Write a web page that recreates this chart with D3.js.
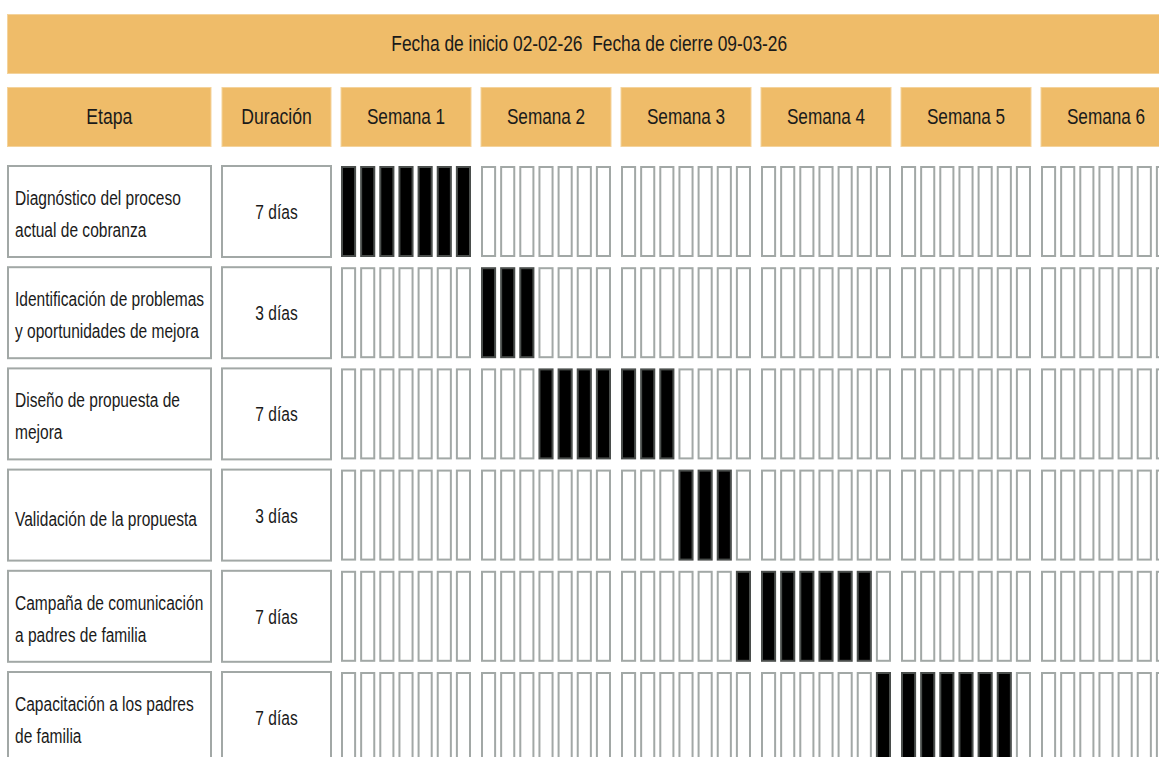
<!DOCTYPE html>
<html><head><meta charset="utf-8">
<script src="https://cdn.jsdelivr.net/npm/d3@7"></script>
<style>html,body{margin:0;padding:0;background:#fff;overflow:hidden} text{white-space:pre}</style>
</head><body>
<svg id="chart" width="1159" height="757"></svg>
<script>
// ---- data ----
const title = "Fecha de inicio 02-02-26  Fecha de cierre 09-03-26";
const headerLabels = ["Etapa", "Duración"];
const weeks = ["Semana 1","Semana 2","Semana 3","Semana 4","Semana 5","Semana 6"];
const dayIndex = [0,1,2,3,4,5,6];
const stages = [
  ["Diagnóstico del proceso","actual de cobranza"],
  ["Identificación de problemas","y oportunidades de mejora"],
  ["Diseño de propuesta de","mejora"],
  ["Validación de la propuesta"],
  ["Campaña de comunicación","a padres de familia"],
  ["Capacitación a los padres","de familia"]
];
const durationLabels = ["7 días","3 días","7 días","3 días","7 días","7 días"];
const durations = [7,3,7,3,7,7];
const startDay = [0,7,10,17,20,27]; // 0-based day index of start

// ---- layout ----
const svg = d3.select("#chart");
const ORANGE = "#EFBC69", GRID = "#a2a8a6";
const FONT = "'Liberation Sans', Arial, sans-serif";

const xWeek = d3.scaleBand().domain(weeks).range([341, 1171]).paddingInner(10/140).paddingOuter(0);
const xDay = d3.scaleBand().domain(dayIndex).range([0, xWeek.bandwidth()]).paddingInner(4/19).paddingOuter(0);
const yRow = d3.scaleBand().domain(d3.range(stages.length)).range([166, 166 + 101.2*5 + 91]).paddingInner(10.2/101.2).paddingOuter(0);
const colX = d3.scaleOrdinal().domain(headerLabels).range([[7.5,211],[222,331]]);

function label(g, txt, x, y, size, anchor, sx){
  g.append("text").attr("transform", `translate(${x},${y}) scale(${sx},1)`)
    .attr("xml:space", "preserve")
    .attr("text-anchor", anchor).attr("font-family", FONT).attr("font-size", size)
    .attr("fill", "#1a1a1a").text(txt);
}

// title bar
svg.append("rect").attr("x", 7.5).attr("y", 14.5).attr("width", 1171-7.5).attr("height", 59)
  .attr("fill", ORANGE).attr("stroke", "#f4d39c").attr("stroke-width", 1);
label(svg, title, (7.5+1171)/2, 51, 22, "middle", 0.79);

// header row
const hdr = svg.append("g");
headerLabels.forEach(h => {
  const [a,b] = colX(h);
  hdr.append("rect").attr("x", a).attr("y", 87.5).attr("width", b-a).attr("height", 59)
    .attr("fill", ORANGE).attr("stroke", "#f4d39c").attr("stroke-width", 1);
  label(hdr, h, (a+b)/2, 124, 22, "middle", 0.8);
});
weeks.forEach(w => {
  hdr.append("rect").attr("x", xWeek(w)).attr("y", 87.5).attr("width", xWeek.bandwidth()).attr("height", 59)
    .attr("fill", ORANGE).attr("stroke", "#f4d39c").attr("stroke-width", 1);
  label(hdr, w, xWeek(w) + xWeek.bandwidth()/2, 124, 22, "middle", 0.78);
});

// rows
stages.forEach((lines, i) => {
  const top = yRow(i), h = yRow.bandwidth();
  const g = svg.append("g");
  const [ea, eb] = colX("Etapa");
  g.append("rect").attr("x", ea+0.5).attr("y", top).attr("width", eb-ea-0.5).attr("height", h)
    .attr("fill", "#fff").attr("stroke", GRID).attr("stroke-width", 2);
  if (lines.length === 1) label(g, lines[0], 15, top + 56, 21, "start", 0.74);
  else lines.forEach((l, k) => label(g, l, 15, top + 39 + 32*k, 21, "start", 0.74));
  const [da, db] = colX("Duración");
  g.append("rect").attr("x", da).attr("y", top).attr("width", db-da).attr("height", h)
    .attr("fill", "#fff").attr("stroke", GRID).attr("stroke-width", 2);
  label(g, durationLabels[i], (da+db)/2, top + 53, 21, "middle", 0.74);

  weeks.forEach((w, wi) => {
    dayIndex.forEach(d => {
      const day = wi*7 + d;
      const on = day >= startDay[i] && day < startDay[i] + durations[i];
      g.append("rect").attr("x", xWeek(w) + xDay(d) + 1).attr("y", top + 1)
        .attr("width", xDay.bandwidth() - 2).attr("height", h - 2)
        .attr("fill", on ? "#000" : "#fff")
        .attr("stroke", on ? "#4a4e4c" : GRID).attr("stroke-width", 2);
    });
  });
});
</script>
</body></html>
